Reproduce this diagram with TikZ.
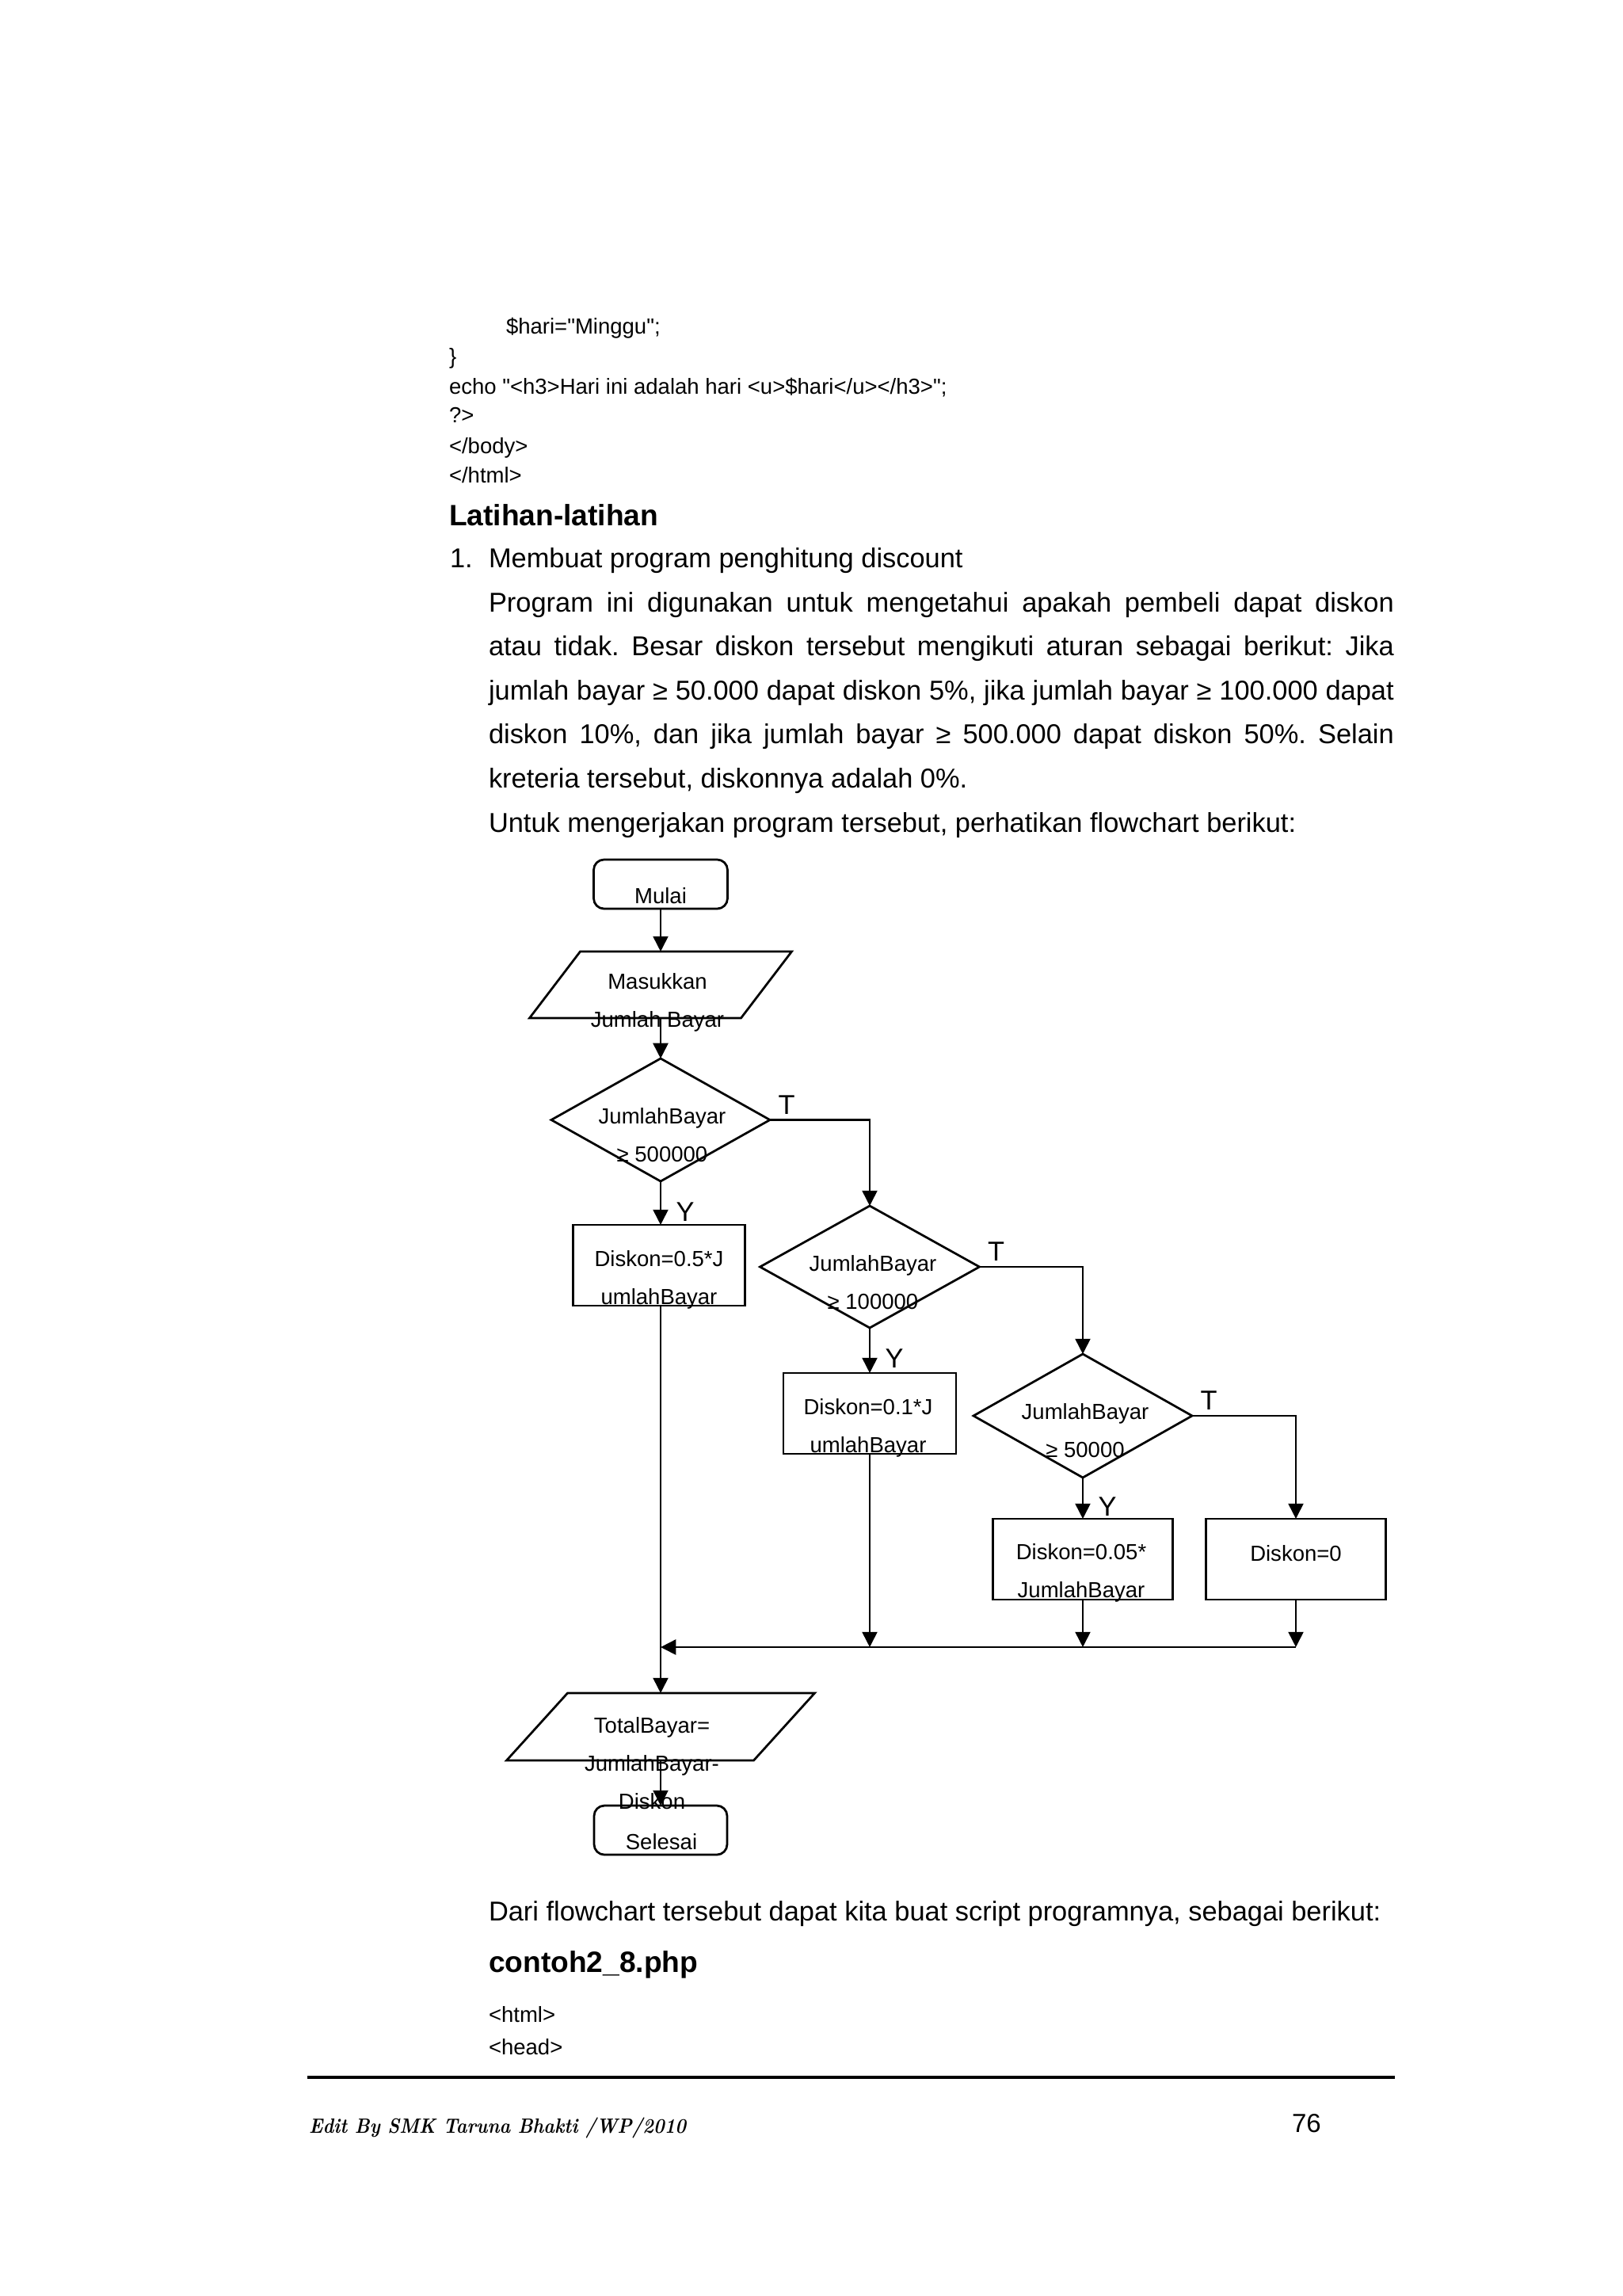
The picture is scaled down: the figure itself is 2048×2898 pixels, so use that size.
\documentclass[tikz,border=0pt]{standalone}
\usepackage{fontspec}
\newfontfamily\arial{Liberation Sans}
\usepackage{graphicx}
\usetikzlibrary{arrows.meta,calc,shapes.geometric}
\def\pxu{0.29067pt}
\frenchspacing
\begin{document}
\begin{tikzpicture}[x=\pxu, y=-\pxu,
  every node/.style={font=\arial, inner sep=0pt, outer sep=0pt},
  code/.style={anchor=base west, font=\arial\fontsize{8}{10}\selectfont},
  body/.style={anchor=base west, font=\arial\fontsize{10}{12}\selectfont},
  heading/.style={anchor=base west, font=\arial\bfseries\fontsize{10.8}{13}\selectfont},
  fc/.style={draw, line width=0.8pt},
  fctext/.style={font=\arial\fontsize{8}{13.95}\selectfont, align=center},
  yt/.style={font=\arial\fontsize{10}{12}\selectfont},
  ln/.style={line width=0.8pt},
  arr/.style={line width=0.8pt, -{Triangle[width=5.5pt,length=5.6pt]}},
]
\useasboundingbox[fill=white] (0,0) rectangle (2048,2898);

% ---- code above ----
\node[code] (c1) at (639,421) {\$hari="Minggu";};
\node[code] (c2) at (567,459) {\}};
\node[code] (c3) at (567,497) {echo "<h3>Hari ini adalah hari <u>\$hari</u></h3>";};
\node[code] (c4) at (567,533) {?>};
\node[code] (c5) at (567,572) {</body>};
\node[code] (c6) at (567,609) {</html>};

\node[heading] (h1) at (567,663) {Latihan-latihan};
\node[body] (n1) at (568,716) {1.};
\node[body] (p0) at (617,716) {Membuat program penghitung discount};
\node[body] (p1) at (617,772) {\makebox[332.2pt][s]{Program ini digunakan untuk mengetahui apakah pembeli dapat diskon}};
\node[body] (p2) at (617,827) {\makebox[332.2pt][s]{atau tidak. Besar diskon tersebut mengikuti aturan sebagai berikut: Jika}};
\node[body] (p3) at (617,883) {\makebox[332.2pt][s]{jumlah bayar ≥ 50.000 dapat diskon 5\%, jika jumlah bayar ≥ 100.000 dapat}};
\node[body] (p4) at (617,938) {\makebox[332.2pt][s]{diskon 10\%, dan jika jumlah bayar ≥ 500.000 dapat diskon 50\%. Selain}};
\node[body] (p5) at (617,994) {kreteria tersebut, diskonnya adalah 0\%.};
\node[body] (p6) at (617,1050) {Untuk mengerjakan program tersebut, perhatikan flowchart berikut:};

% ---- flowchart shapes ----
\node[fc, rounded corners=3.8pt, minimum width=169*\pxu, minimum height=62*\pxu] (mulai) at (834,1116) {};
\node[minimum width=331*\pxu, minimum height=84*\pxu] (in1) at (834,1243) {};
\draw[ln] ($(in1.north west)+(64,0)$) -- (in1.north east) -- ($(in1.south east)-(64,0)$) -- (in1.south west) -- cycle;

\node[fc, diamond, minimum width=276*\pxu, minimum height=155*\pxu] (d1) at (834,1413.5) {};
\node[fc, minimum width=217*\pxu, minimum height=102*\pxu] (b1) at (832,1597) {};

\node[fc, diamond, minimum width=277*\pxu, minimum height=154*\pxu] (d2) at (1098,1599) {};
\node[fc, minimum width=218*\pxu, minimum height=102*\pxu] (b2) at (1098,1784) {};

\node[fc, diamond, minimum width=276*\pxu, minimum height=156*\pxu] (d3) at (1367,1787) {};
\node[fc, minimum width=227*\pxu, minimum height=102*\pxu] (b3) at (1367,1968) {};
\node[fc, minimum width=227*\pxu, minimum height=102*\pxu] (b4) at (1636,1968) {};

\node[minimum width=389*\pxu, minimum height=85*\pxu] (in2) at (834,2179.5) {};
\draw[ln] ($(in2.north west)+(77,0)$) -- (in2.north east) -- ($(in2.south east)-(77,0)$) -- (in2.south west) -- cycle;
\node[fc, rounded corners=3.8pt, minimum width=168*\pxu, minimum height=62*\pxu] (selesai) at (834,2310) {};

% ---- flowchart texts ----
\node[fctext] (tmulai) at (834,1131) {Mulai};
\node[fctext] (tin1) at (830,1265) {Masukkan\\Jumlah Bayar};
\node[fctext] (td1) at (836,1432.5) {JumlahBayar\\≥ 500000};
\node[fctext] (tb1) at (832,1615) {Diskon=0.5*J\\umlahBayar};
\node[fctext] (td2) at (1102,1619) {JumlahBayar\\≥ 100000};
\node[fctext] (tb2) at (1096,1802) {Diskon=0.1*J\\umlahBayar};
\node[fctext] (td3) at (1370,1805.5) {JumlahBayar\\≥ 50000};
\node[fctext] (tb3) at (1365,1985.5) {Diskon=0.05*\\JumlahBayar};
\node[fctext] (tb4) at (1636,1961) {Diskon=0};
\node[fctext] (tin2) at (823,2225.5) {TotalBayar=\\JumlahBayar-\\Diskon};
\node[fctext] (tsel) at (835,2325) {Selesai};

% ---- connectors ----
\coordinate (mj) at (834,2079);
\draw[arr] (mulai) -- (in1);
\draw[arr] (in1) -- (d1);
\draw[arr] (d1.south) -- (d1.south |- b1.north);
\draw[arr] (d1.east) -| (d2.north);
\draw[arr] (d2) -- (b2);
\draw[arr] (d2.east) -| (d3.north);
\draw[arr] (d3) -- (b3);
\draw[arr] (d3.east) -| (b4.north);
\draw[arr] (b2.south) -- (b2.south |- mj);
\draw[arr] (b3.south) -- (b3.south |- mj);
\draw[arr] (b4.south) -- (b4.south |- mj);
\draw[arr] (b4.south |- mj) -- (mj);
\draw[arr] (mj |- b1.south) -- (in2);
\draw[arr] (in2) -- (selesai);

\node[yt] (T1) at ($(d1.east)+(21,-19)$) {T};
\node[yt] (T2) at ($(d2.east)+(21,-19)$) {T};
\node[yt] (T3) at ($(d3.east)+(21,-19)$) {T};
\node[yt] (Y1) at ($(d1.south)+(31,39)$) {Y};
\node[yt] (Y2) at ($(d2.south)+(31,39)$) {Y};
\node[yt] (Y3) at ($(d3.south)+(31,37)$) {Y};

% ---- text below ----
\node[body] (q1) at (617,2424) {Dari flowchart tersebut dapat kita buat script programnya, sebagai berikut:};
\node[heading] (h2) at (617,2489) {contoh2\_8.php};
\node[code] (c7) at (617,2552) {<html>};
\node[code] (c8) at (617,2593) {<head>};

\coordinate (rl) at (388,2622);
\coordinate (rr) at (1761,2622);
\draw[line width=1.1pt] (rl) -- (rr);

\node[anchor=base west] (foot) at (390,2692) {\resizebox{138.4pt}{\height}{\rmfamily\bfseries\itshape\fontsize{7.6}{9}\selectfont Edit By SMK Taruna Bhakti /WP/2010}};
\node[anchor=base west, font=\arial\fontsize{9.6}{11}\selectfont] (pg) at (1631,2691) {76};
\end{tikzpicture}
\end{document}
